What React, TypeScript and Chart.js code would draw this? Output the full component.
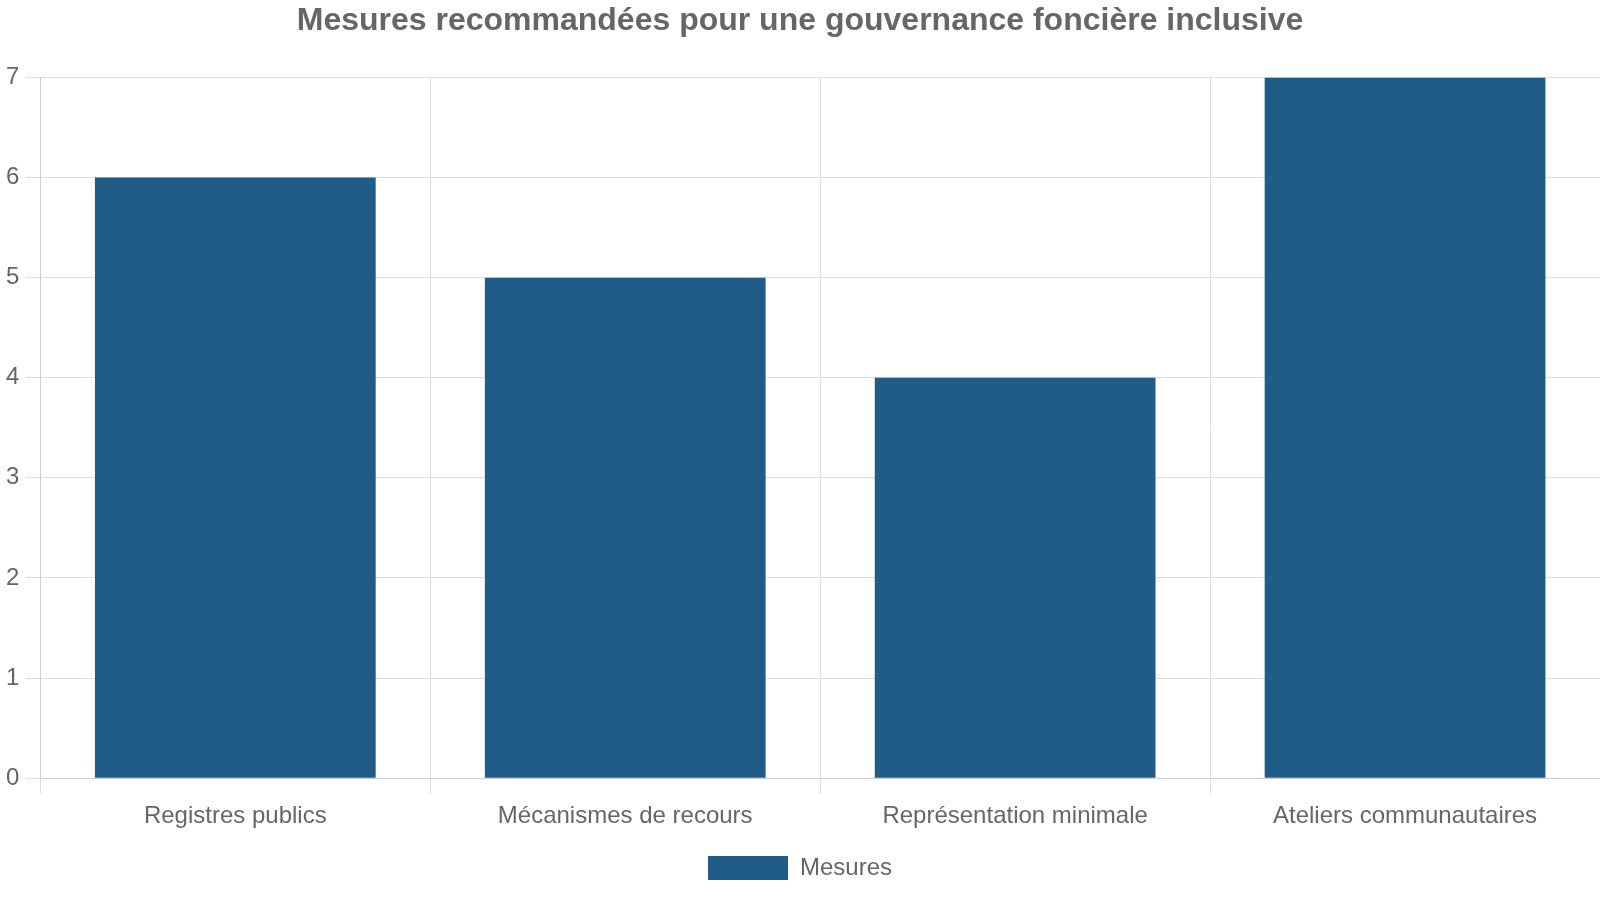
import React, { useEffect, useRef } from 'react';
import { Chart, registerables, ChartOptions } from 'chart.js';

Chart.register(...registerables);

// Données du graphique
const categories = ['Registres publics', 'Mécanismes de recours', 'Représentation minimale', 'Ateliers communautaires'];
const mesures = [6, 5, 4, 7];
const seriesLabel = 'Mesures';
const chartTitle = 'Mesures recommandées pour une gouvernance foncière inclusive';

const fontFamily = 'Liberation Sans, Arial, sans-serif';

const App: React.FC = () => {
  const canvasRef = useRef<HTMLCanvasElement>(null);

  useEffect(() => {
    document.body.style.margin = '0';
    if (!canvasRef.current) return;

    const options: ChartOptions<'bar'> = {
      responsive: true,
      maintainAspectRatio: false,
      animation: false,
      layout: { padding: { left: 0, right: 0, top: 0, bottom: 10 } },
      plugins: {
        title: {
          display: true,
          text: chartTitle,
          color: '#666',
          font: { family: fontFamily, size: 32, weight: 'bold' },
          padding: { top: 2, bottom: 37 }
        },
        legend: {
          position: 'bottom',
          labels: {
            color: '#666',
            boxWidth: 80,
            boxHeight: 24,
            padding: 16,
            font: { family: fontFamily, size: 24 }
          }
        },
        tooltip: { enabled: false }
      },
      scales: {
        x: {
          grid: { color: '#ddd', tickLength: 15 },
          border: { color: '#ccc' },
          ticks: { color: '#666', padding: 9, font: { family: fontFamily, size: 24 } }
        },
        y: {
          beginAtZero: true,
          max: 7,
          grid: { color: '#ddd', tickLength: 15 },
          border: { color: '#ccc' },
          ticks: { color: '#666', stepSize: 1, padding: 6, font: { family: fontFamily, size: 24 } }
        }
      }
    };

    const chart = new Chart(canvasRef.current, {
      type: 'bar',
      data: {
        labels: categories,
        datasets: [
          {
            label: seriesLabel,
            data: mesures,
            backgroundColor: '#1f5c87',
            borderWidth: 0
          }
        ]
      },
      options
    });

    return () => {
      chart.destroy();
    };
  }, []);

  return (
    <div style={{ width: '1600px', height: '900px', position: 'relative' }}>
      <canvas ref={canvasRef}></canvas>
    </div>
  );
};

export default App;
